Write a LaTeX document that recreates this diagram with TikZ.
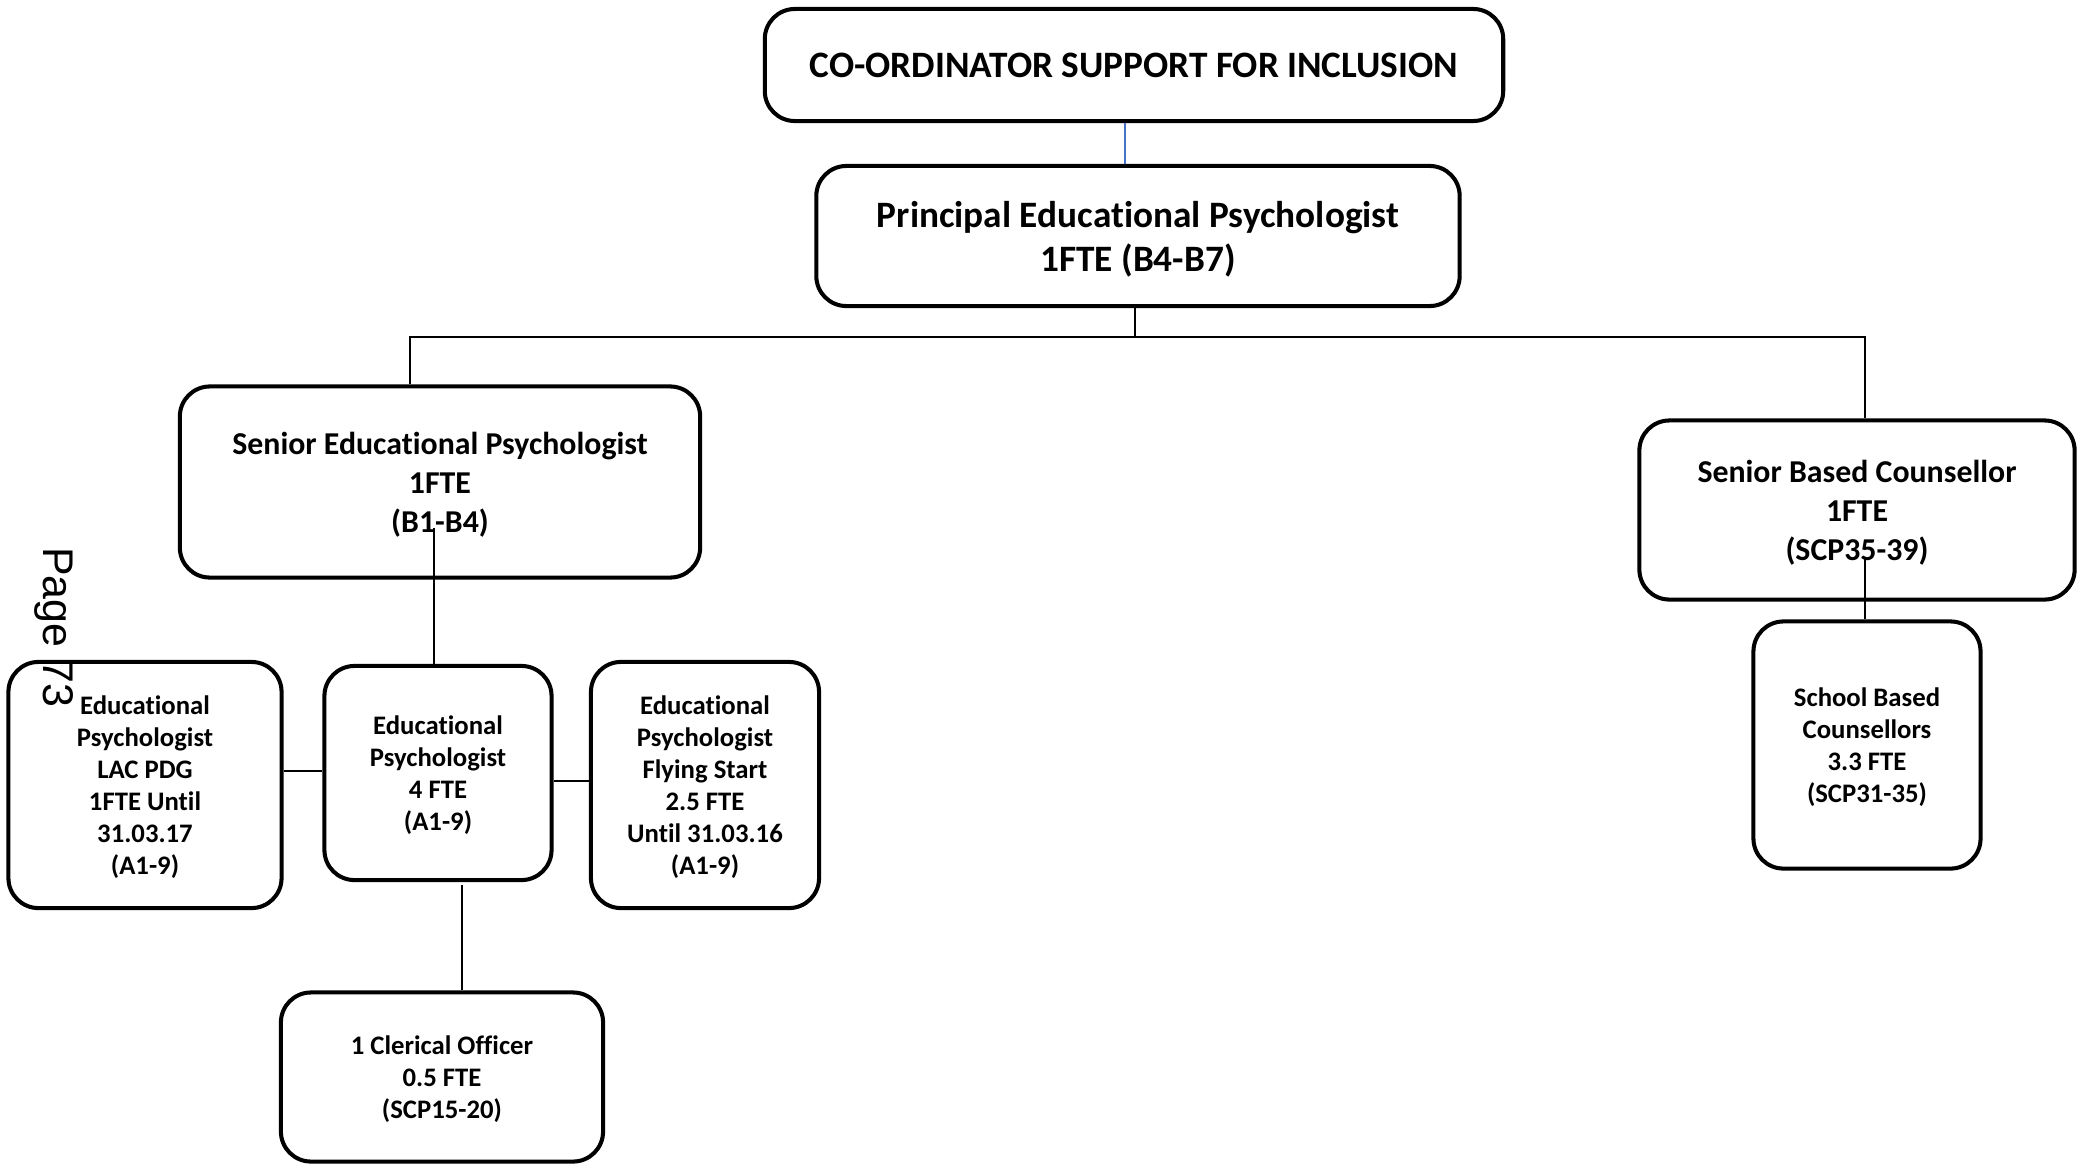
\documentclass[tikz,border=0pt]{standalone}
\usepackage{fontspec}
\setmainfont{Carlito}[Ligatures=NoCommon]
\newfontfamily\pagefont{Liberation Sans}
\definecolor{linkblue}{RGB}{68,114,196}
\tikzset{
  post/.style={draw, line width=1.15pt, rounded corners=0.3cm, align=center, inner sep=0pt, text depth=0pt},
  bigtext/.style={font=\bfseries\fontsize{10.6}{12.5}\selectfont},
  midtext/.style={font=\bfseries\fontsize{9.05}{11.1}\selectfont},
  smalltext/.style={font=\bfseries\fontsize{7.6}{9.1}\selectfont},
  link/.style={line width=0.4pt},
}
\begin{document}
\begin{tikzpicture}[x=0.01cm, y=-0.01cm]
    \useasboundingbox (0,0) rectangle (2087,1166);
    % boxes
    \node[post, bigtext, minimum width=7.38cm, minimum height=1.12cm] (coord) at (1134,65) {CO-ORDINATOR SUPPORT FOR INCLUSION};
    \node[post, bigtext, minimum width=6.43cm, minimum height=1.40cm] (pep) at (1138,236) {Principal Educational Psychologist\\1FTE (B4-B7)};
    \node[post, midtext, minimum width=5.20cm, minimum height=1.91cm] (sep) at (440,482) {Senior Educational Psychologist\\1FTE\\(B1-B4)};
    \node[post, midtext, minimum width=4.35cm, minimum height=1.79cm] (sbc) at (1857,510) {Senior Based Counsellor\\1FTE\\(SCP35-39)};
    \node[post, smalltext, minimum width=2.27cm, minimum height=2.47cm] (scb) at (1867,745) {School Based\\Counsellors\\3.3 FTE\\(SCP31-35)};
    \node[post, smalltext, minimum width=2.73cm, minimum height=2.46cm] (lac) at (145,785) {Educational\\Psychologist\\LAC PDG\\1FTE Until\\31.03.17\\(A1-9)};
    \node[post, smalltext, minimum width=2.27cm, minimum height=2.14cm] (ep) at (438,773) {Educational\\Psychologist\\4 FTE\\(A1-9)};
    \node[post, smalltext, minimum width=2.28cm, minimum height=2.46cm] (fly) at (705,785) {Educational\\Psychologist\\Flying Start\\2.5 FTE\\Until 31.03.16\\(A1-9)};
    \node[post, smalltext, minimum width=3.22cm, minimum height=1.69cm] (clerk) at (442,1077) {1 Clerical Officer\\0.5 FTE\\(SCP15-20)};
    \node[rotate=-90, font=\pagefont\fontsize{12.2}{14}\selectfont] (page) at (54,627) {Page 73};
    % connectors
    \coordinate (topdrop) at (1125,0);
    \coordinate (busM) at (1135,337);
    \coordinate (busL) at (410,337);
    \coordinate (busR) at (1865,337);
    \coordinate (sepdrop) at (434,528);
    \coordinate (sbcdrop) at (1865,559);
    \coordinate (lactie) at (0,771);
    \coordinate (flytie) at (0,781);
    \coordinate (clkdrop) at (462,885);
    \draw[link, linkblue] (coord.south -| topdrop) -- (pep.north -| topdrop);
    \draw[link] (pep.south -| busM) -- (busM);
    \draw[link] (sep.north -| busL) -- (busL) -- (busR) -- (sbc.north -| busR);
    \draw[link] (sepdrop) -- (ep.north -| sepdrop);
    \draw[link] (sbcdrop) -- (scb.north -| sbcdrop);
    \draw[link] (lac.east |- lactie) -- (ep.west |- lactie);
    \draw[link] (ep.east |- flytie) -- (fly.west |- flytie);
    \draw[link] (clkdrop) -- (clerk.north -| clkdrop);
\end{tikzpicture}
\end{document}
